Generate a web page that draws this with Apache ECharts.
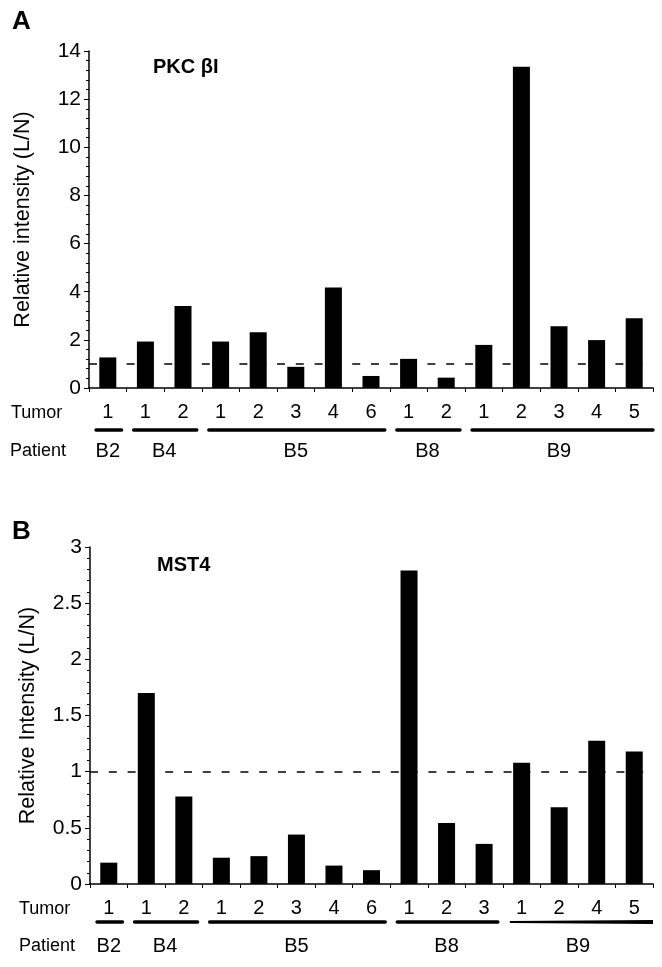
<!DOCTYPE html>
<html>
<head>
<meta charset="utf-8">
<script src="https://cdn.jsdelivr.net/npm/echarts@6/dist/echarts.min.js"></script>
<style>html,body{margin:0;padding:0;background:#fff}#c{width:662px;height:967px}</style>
</head>
<body>
<div id="c"></div>
<script>
// ---- data ----
const tumorsA = ['1','1','2','1','2','3','4','6','1','2','1','2','3','4','5'];
const valuesA = [1.27,1.93,3.41,1.93,2.32,0.88,4.18,0.50,1.21,0.43,1.79,13.35,2.57,1.99,2.90];
const patientsA = ['B2','B4','B5','B8','B9'];
const patientCountsA = [1,2,5,2,5];
const yTicksA = {min:0, max:14, interval:2};

const tumorsB = ['1','1','2','1','2','3','4','6','1','2','3','1','2','4','5'];
const valuesB = [0.19,1.70,0.78,0.234,0.248,0.44,0.164,0.123,2.79,0.544,0.357,1.08,0.684,1.275,1.18];
const patientsB = ['B2','B4','B5','B8','B9'];
const patientCountsB = [1,2,5,3,4];
const yTicksB = {min:0, max:3, interval:0.5};

const refLine = 1;

// ---- chart ----
const FF = '"Liberation Sans", Arial, Helvetica, sans-serif';
const chart = echarts.init(document.getElementById('c'), null, {renderer:'canvas', width:662, height:967});

function xAx(i, data){
  return {type:'category', gridIndex:i, data:data,
    axisLine:{lineStyle:{color:'#000', width:1.5}},
    axisTick:{show:true, length:4, lineStyle:{color:'#000', width:1}},
    axisLabel:{color:'#000', fontSize:20, fontFamily:FF, margin:14}};
}
function yAx(i, t, name, gap){
  return {type:'value', gridIndex:i, min:t.min, max:t.max, interval:t.interval,
    axisLine:{show:true, lineStyle:{color:'#000', width:1.5}},
    axisTick:{show:true, length:5, lineStyle:{color:'#000', width:1}},
    minorTick:{show:true, splitNumber:5, length:3, lineStyle:{color:'#000', width:1}},
    splitLine:{show:false},
    axisLabel:{color:'#000', fontSize:21, fontFamily:FF, margin:8},
    name:name, nameLocation:'middle', nameGap:gap,
    nameTextStyle:{color:'#000', fontSize:21.5, fontFamily:FF}};
}
function refSeries(i){
  return {type:'line', xAxisIndex:i, yAxisIndex:i, data:[], z:1, silent:true,
    markLine:{silent:true, symbol:'none', label:{show:false},
      lineStyle:{color:'#000', width:1.5, type:[8,10.8]},
      data:[{yAxis:refLine}]}};
}

chart.setOption({
  animation:false,
  backgroundColor:'#fff',
  grid:[{left:89, top:51, width:564, height:337},
        {left:90, top:547, width:563, height:337}],
  xAxis:[xAx(0,tumorsA), xAx(1,tumorsB)],
  yAxis:[yAx(0,yTicksA,'Relative intensity (L/N)',55), yAx(1,yTicksB,'Relative Intensity (L/N)',51)],
  series:[
    {type:'bar', xAxisIndex:0, yAxisIndex:0, data:valuesA, barWidth:17, z:3, itemStyle:{color:'#000'}},
    {type:'bar', xAxisIndex:1, yAxisIndex:1, data:valuesB, barWidth:17, z:3, itemStyle:{color:'#000'}},
    refSeries(0), refSeries(1)
  ]
});

function groupGraphics(axisIdx, names, counts, lineOff, labelOff, taperLast){
  const els = [];
  const y0 = chart.convertToPixel({yAxisIndex:axisIdx}, 0);
  const c0 = chart.convertToPixel({xAxisIndex:axisIdx}, 0);
  const c1 = chart.convertToPixel({xAxisIndex:axisIdx}, 1);
  const w = c1 - c0;
  let start = 0;
  names.forEach((nm, g) => {
    const end = start + counts[g] - 1;
    const cs = chart.convertToPixel({xAxisIndex:axisIdx}, start);
    const ce = chart.convertToPixel({xAxisIndex:axisIdx}, end);
    const last = g === names.length - 1;
    const xl = cs - w/2 + 7;
    const xr = ce + w/2 - (last ? 0 : 5);
    const ly = y0 + lineOff;
    if (last && taperLast) {
      els.push({type:'polygon', shape:{points:[[xl,ly-0.9],[xr,ly-2.1],[xr,ly+2.1],[xl,ly+0.9]]}, style:{fill:'#000'}});
    } else {
      els.push({type:'line', shape:{x1:xl, y1:ly, x2:xr, y2:ly}, style:{stroke:'#000', lineWidth:3.4, lineCap:'round'}});
    }
    els.push({type:'text', style:{text:nm, x:(cs+ce)/2, y:y0+labelOff, fill:'#000', font:'20px '+FF,
      textAlign:'center', textVerticalAlign:'middle', align:'center', verticalAlign:'middle'}});
    start = end + 1;
  });
  els.push({type:'text', style:{text:'Tumor', x:axisIdx===0?11:19, y:y0+25, fill:'#000', font:'18px '+FF, textAlign:'left', textVerticalAlign:'middle', align:'left', verticalAlign:'middle'}});
  els.push({type:'text', style:{text:'Patient', x:axisIdx===0?10:19, y:y0+labelOff, fill:'#000', font:'18px '+FF, textAlign:'left', textVerticalAlign:'middle', align:'left', verticalAlign:'middle'}});
  return els;
}

function txt(t, x, y, font){
  return {type:'text', style:{text:t, x:x, y:y, fill:'#000', font:font, textAlign:'left', textVerticalAlign:'middle', align:'left', verticalAlign:'middle'}};
}

const graphics = []
  .concat(groupGraphics(0, patientsA, patientCountsA, 42, 63, false))
  .concat(groupGraphics(1, patientsB, patientCountsB, 38, 62, true))
  .concat([
    txt('A', 12, 22, 'bold 26px '+FF),
    txt('B', 12, 532, 'bold 26px '+FF),
    txt('PKC βI', 153, 67, 'bold 20px '+FF),
    txt('MST4', 157, 565, 'bold 20px '+FF)
  ]);
chart.setOption({graphic:{elements:graphics}});
</script>
</body>
</html>
